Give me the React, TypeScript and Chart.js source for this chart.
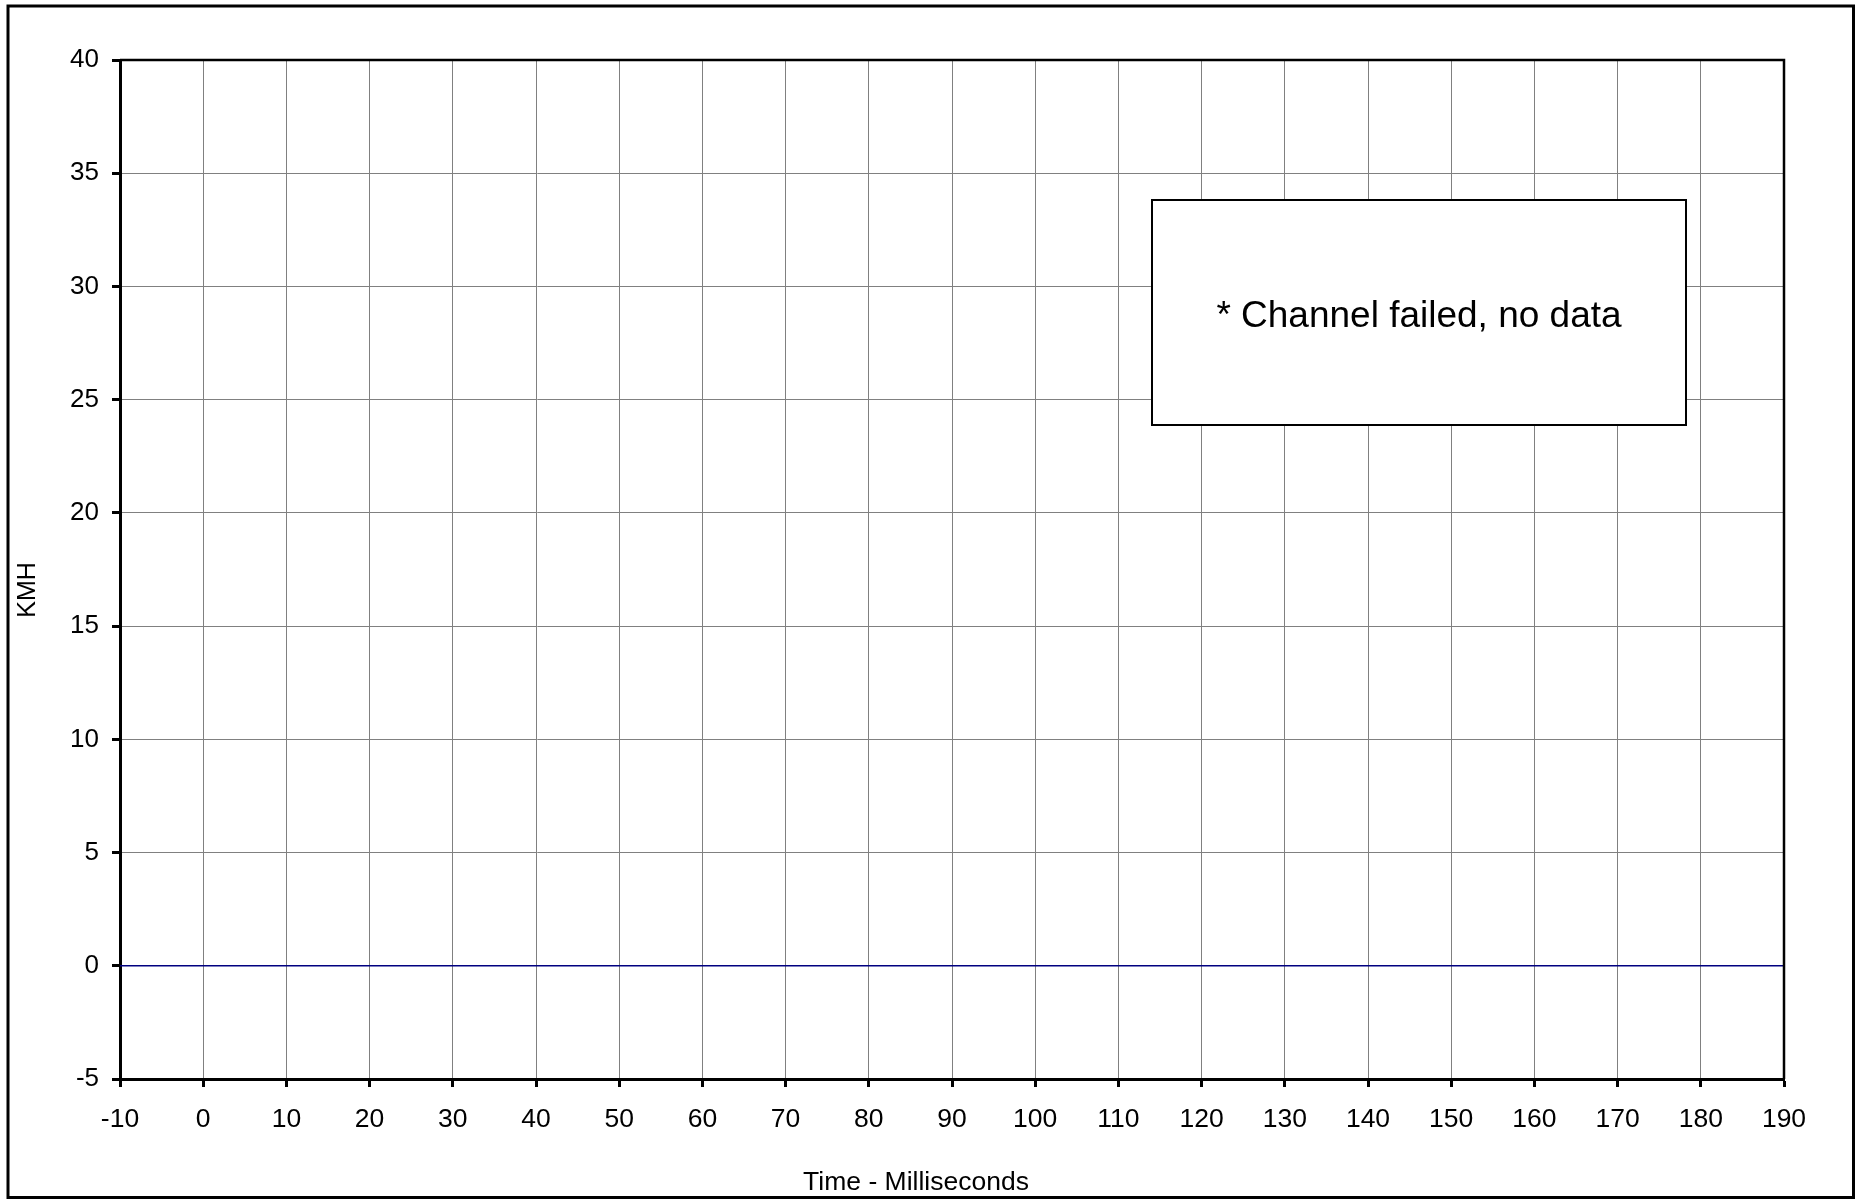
import React, { useEffect, useRef } from "react";
import { Chart, registerables } from "chart.js";

Chart.register(...registerables);

// ---- data ----
const timeMs: number[] = [-10, 190];
const kmh: number[] = [0, 0];

const xMin = -10;
const xMax = 190;
const xStep = 10;
const yMin = -5;
const yMax = 40;
const yStep = 5;

const xAxisTitle = "Time - Milliseconds";
const yAxisTitle = "KMH";
const noteText = "* Channel failed, no data";
// note box corners in data coordinates
const noteX = [114.0, 178.2];
const noteY = [33.8, 23.9];

const FONT = "'Liberation Sans', Arial, sans-serif";

const decorPlugin = {
  id: "decor",
  afterDraw(chart: any) {
    const ctx = chart.ctx as CanvasRenderingContext2D;
    const a = chart.chartArea;
    const xs = chart.scales.x;
    const ys = chart.scales.y;
    ctx.save();
    // top and right frame of plot area
    ctx.strokeStyle = "#000";
    ctx.lineWidth = 2.5;
    ctx.beginPath();
    ctx.moveTo(a.left, a.top);
    ctx.lineTo(a.right, a.top);
    ctx.lineTo(a.right, a.bottom);
    ctx.stroke();

    // note box
    const bx0 = Math.round(xs.getPixelForValue(noteX[0]));
    const bx1 = Math.round(xs.getPixelForValue(noteX[1]));
    const by0 = Math.round(ys.getPixelForValue(noteY[0]));
    const by1 = Math.round(ys.getPixelForValue(noteY[1]));
    ctx.fillStyle = "#fff";
    ctx.fillRect(bx0, by0, bx1 - bx0, by1 - by0);
    ctx.lineWidth = 2;
    ctx.strokeStyle = "#000";
    ctx.strokeRect(bx0, by0, bx1 - bx0, by1 - by0);
    ctx.fillStyle = "#000";
    ctx.font = `37px ${FONT}`;
    ctx.textAlign = "center";
    ctx.textBaseline = "middle";
    ctx.fillText(noteText, (bx0 + bx1) / 2, (by0 + by1) / 2 + 4);

    // axis titles
    ctx.font = `26.5px ${FONT}`;
    ctx.textAlign = "center";
    ctx.textBaseline = "middle";
    ctx.fillText(xAxisTitle, 916, 1183);
    ctx.save();
    ctx.translate(28, 590);
    ctx.rotate(-Math.PI / 2);
    ctx.font = `25px ${FONT}`;
    ctx.fillText(yAxisTitle, 0, 0);
    ctx.restore();

    // outer frame
    ctx.lineWidth = 3;
    ctx.strokeStyle = "#000";
    ctx.strokeRect(8, 6, 1845.5, 1191.5);
    ctx.restore();
  },
};

export default function App() {
  const ref = useRef<HTMLCanvasElement | null>(null);
  useEffect(() => {
    if (!ref.current) return;
    const chart = new Chart(ref.current, {
      type: "line",
      data: {
        datasets: [
          {
            label: "KMH",
            data: timeMs.map((t, i) => ({ x: t, y: kmh[i] })),
            borderColor: "#000080",
            borderWidth: 1.5,
            pointRadius: 0,
            fill: false,
            tension: 0,
          },
        ],
      },
      options: {
        animation: false,
        responsive: false,
        maintainAspectRatio: false,
        layout: { padding: { left: 0, top: 60, right: 78, bottom: 0 } },
        plugins: {
          legend: { display: false },
          tooltip: { enabled: false },
          title: { display: false },
        },
        scales: {
          x: {
            type: "linear",
            min: xMin,
            max: xMax,
            afterFit: (s: any) => {
              s.height = 120;
            },
            ticks: {
              stepSize: xStep,
              color: "#000",
              font: { family: FONT, size: 26.5 },
              padding: 17,
              maxRotation: 0,
              autoSkip: false,
            },
            grid: {
              color: "#808080",
              lineWidth: 1,
              tickColor: "#000",
              tickWidth: 3,
              tickLength: 8,
            },
            border: { color: "#000", width: 3 },
          },
          y: {
            type: "linear",
            min: yMin,
            max: yMax,
            afterFit: (s: any) => {
              s.width = 120;
            },
            ticks: {
              stepSize: yStep,
              color: "#000",
              font: { family: FONT, size: 26 },
              padding: 13,
              autoSkip: false,
            },
            grid: {
              color: "#808080",
              lineWidth: 1,
              tickColor: "#000",
              tickWidth: 3,
              tickLength: 8,
            },
            border: { color: "#000", width: 3 },
          },
        },
      },
      plugins: [decorPlugin],
    });
    return () => chart.destroy();
  }, []);
  return (
    <div style={{ position: "absolute", left: 0, top: 0, width: 1862, height: 1199, background: "#fff" }}>
      <canvas ref={ref} width={1862} height={1199} style={{ width: 1862, height: 1199, display: "block" }} />
    </div>
  );
}
